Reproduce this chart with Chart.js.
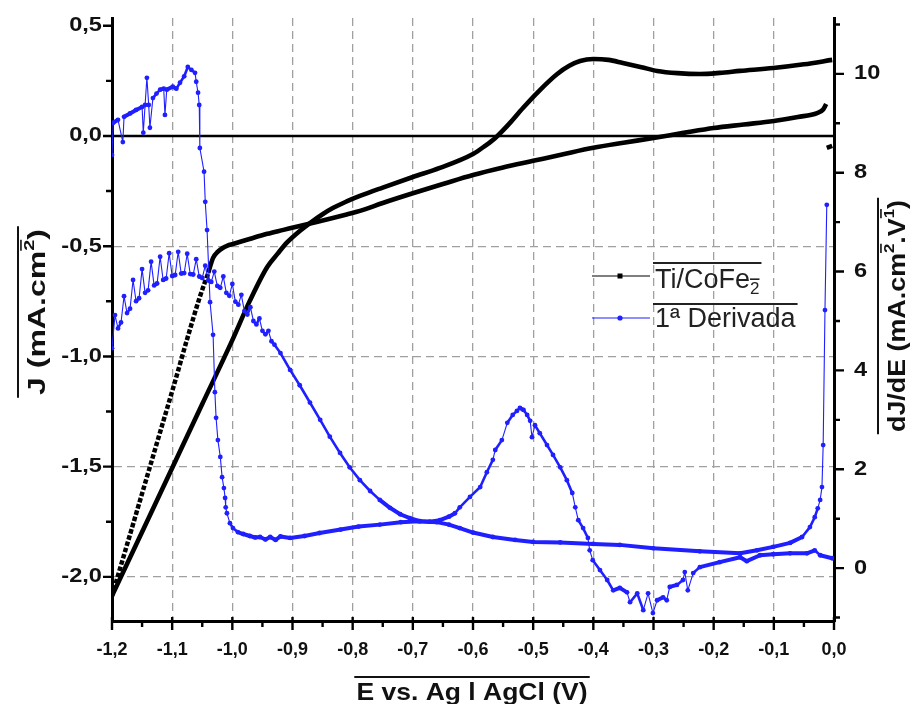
<!DOCTYPE html>
<html>
<head>
<meta charset="utf-8">
<script src="https://cdn.jsdelivr.net/npm/chart.js@4.4.1/dist/chart.umd.min.js"></script>
<style>
  html, body { margin: 0; padding: 0; background: #fff; }
  #wrap { width: 916px; height: 704px; }
</style>
</head>
<body>
<div id="wrap"><canvas id="c" width="916" height="704"></canvas></div>
<script>
// Ti/CoFe2 voltammogram, lower branch (dotted steep start, ends with the curl near 0 V)
const tiLowE = [-1.200, -1.175, -1.148, -1.120, -1.095, -1.075, -1.054, -1.040, -1.032, -1.024, -1.016, -1.008, -0.999,
  -0.970, -0.942, -0.915, -0.888, -0.860, -0.833, -0.810, -0.788, -0.750, -0.700, -0.650, -0.600, -0.550,
  -0.500, -0.450, -0.400, -0.350, -0.300, -0.250, -0.200, -0.150, -0.100, -0.060, -0.028, -0.018, -0.013];
const tiLowJ = [-2.086, -1.854, -1.603, -1.343, -1.111, -0.920, -0.730, -0.620, -0.553, -0.525, -0.508, -0.497, -0.490,
  -0.466, -0.444, -0.426, -0.408, -0.390, -0.372, -0.356, -0.340, -0.304, -0.260, -0.218, -0.177, -0.143,
  -0.113, -0.083, -0.054, -0.031, -0.009, 0.014, 0.036, 0.052, 0.068, 0.086, 0.104, 0.120, 0.145];

// upper branch (anodic peak near -0,4 V)
const tiUpE = [-1.200, -1.150, -1.100, -1.050, -1.000, -0.971, -0.942, -0.925, -0.909, -0.888, -0.871, -0.850, -0.833,
  -0.810, -0.788, -0.750, -0.700, -0.655, -0.600, -0.580, -0.563, -0.540, -0.517, -0.490, -0.460, -0.440, -0.422,
  -0.400, -0.375, -0.351, -0.320, -0.294, -0.260, -0.223, -0.190, -0.156, -0.101, -0.050, -0.003];
const tiUpJ = [-2.086, -1.796, -1.506, -1.216, -0.926, -0.748, -0.594, -0.535, -0.483, -0.431, -0.395, -0.355, -0.327,
  -0.297, -0.272, -0.234, -0.186, -0.145, -0.082, -0.045, -0.009, 0.055, 0.127, 0.205, 0.281, 0.318, 0.340,
  0.349, 0.345, 0.331, 0.312, 0.295, 0.285, 0.281, 0.286, 0.295, 0.308, 0.325, 0.345];

// short piece at the start of the scan
const tiTailE = [-0.012, -0.003];
const tiTailJ = [-0.054, -0.045];

// 1a derivada, branch of the lower curve
const derAE = [-1.200, -1.198, -1.190, -1.182, -1.180, -1.170, -1.160, -1.150, -1.148, -1.145, -1.142, -1.139, -1.137,
  -1.132, -1.126, -1.120, -1.114, -1.112, -1.109, -1.099, -1.093, -1.087, -1.080, -1.074, -1.068, -1.062, -1.060,
  -1.057, -1.055, -1.054, -1.047, -1.045, -1.042, -1.037, -1.032, -1.029, -1.027, -1.024, -1.020, -1.017, -1.014,
  -1.012, -1.011, -1.009, -1.004, -0.999, -0.991, -0.982, -0.971, -0.962, -0.954, -0.945, -0.937, -0.928, -0.920,
  -0.904, -0.880, -0.855, -0.820, -0.790, -0.755, -0.720, -0.690, -0.660, -0.640, -0.622, -0.600, -0.567, -0.530,
  -0.500, -0.455, -0.400, -0.356, -0.300, -0.223, -0.156, -0.128, -0.101, -0.073, -0.053, -0.040, -0.032, -0.027,
  -0.023, -0.020, -0.018, -0.015, -0.012];
const derAV = [8.36, 9.01, 9.07, 8.62, 9.13, 9.20, 9.27, 9.33, 8.81, 9.37, 9.92, 9.37, 8.91,
  9.51, 9.60, 9.68, 9.70, 9.17, 9.68, 9.74, 9.70, 9.82, 9.95, 10.14, 10.08, 10.02, 9.84,
  9.62, 9.37, 8.50, 8.02, 7.41, 6.84, 5.38, 4.72, 3.56, 3.04, 2.59, 2.25, 1.84, 1.62,
  1.42, 1.23, 1.11, 0.91, 0.81, 0.73, 0.69, 0.65, 0.62, 0.63, 0.58, 0.63, 0.57, 0.64,
  0.61, 0.65, 0.71, 0.78, 0.84, 0.88, 0.93, 0.95, 0.93, 0.88, 0.81, 0.72, 0.63, 0.57,
  0.53, 0.52, 0.49, 0.47, 0.40, 0.34, 0.30, 0.36, 0.43, 0.51, 0.63, 0.83, 1.03, 1.21,
  1.38, 1.64, 2.49, 5.22, 7.35];

// 1a derivada, branch of the upper curve (noisy comb at the start)
const derBE = [-1.200, -1.195, -1.190, -1.185, -1.180, -1.175, -1.170, -1.165, -1.160, -1.155, -1.150, -1.145, -1.140,
  -1.135, -1.130, -1.125, -1.120, -1.115, -1.110, -1.105, -1.100, -1.095, -1.090, -1.085, -1.080, -1.075, -1.070,
  -1.065, -1.060, -1.055, -1.050, -1.045, -1.040, -1.035, -1.030, -1.025, -1.020, -1.015, -1.010, -1.005, -1.000,
  -0.995, -0.990, -0.985, -0.980, -0.975, -0.970, -0.965, -0.960, -0.955, -0.950, -0.945, -0.940, -0.935, -0.930,
  -0.920, -0.904, -0.888, -0.871, -0.854, -0.838, -0.821, -0.805, -0.788,
  -0.771, -0.755, -0.738, -0.721, -0.705, -0.688, -0.672, -0.655, -0.640, -0.630, -0.622, -0.605, -0.588, -0.577,
  -0.567, -0.563, -0.552, -0.543, -0.534, -0.527, -0.522, -0.516, -0.510, -0.505, -0.502, -0.497, -0.489, -0.477,
  -0.467, -0.455, -0.444, -0.435, -0.430, -0.425, -0.417, -0.409, -0.406, -0.401, -0.389, -0.377, -0.367, -0.356,
  -0.344, -0.339, -0.327, -0.317, -0.309, -0.301, -0.294, -0.284, -0.278, -0.273, -0.261, -0.251, -0.248, -0.243,
  -0.234, -0.223, -0.190, -0.156, -0.145, -0.123, -0.101, -0.073, -0.045, -0.032, -0.023, -0.003];
const derBV = [4.45, 5.12, 4.85, 4.97, 5.50, 5.16, 5.25, 5.83, 5.40, 5.46, 6.05, 5.57, 5.62,
  6.20, 5.72, 5.76, 6.30, 5.83, 5.86, 6.37, 5.91, 5.93, 6.40, 5.96, 5.97, 6.36, 5.95,
  5.94, 6.25, 5.90, 5.87, 6.12, 5.82, 5.79, 6.00, 5.71, 5.67, 5.90, 5.57, 5.51, 5.75,
  5.39, 5.33, 5.53, 5.20, 5.13, 5.28, 5.00, 4.93, 5.05, 4.80, 4.73, 4.80, 4.59, 4.52,
  4.35, 4.01, 3.70, 3.35, 3.00, 2.66, 2.33, 2.04, 1.78,
  1.56, 1.38, 1.22, 1.09, 1.01, 0.95, 0.94, 0.97, 1.04, 1.11, 1.23, 1.44, 1.64, 1.94,
  2.19, 2.39, 2.59, 2.94, 3.10, 3.18, 3.24, 3.20, 3.10, 2.98, 2.65, 2.89, 2.73, 2.49,
  2.29, 2.04, 1.78, 1.52, 1.23, 0.97, 0.81, 0.61, 0.36, 0.16, -0.04, -0.24, -0.45, -0.40,
  -0.49, -0.69, -0.51, -0.85, -0.51, -0.91, -0.65, -0.59, -0.65, -0.38, -0.34, -0.24, -0.08, -0.45,
  -0.10, 0.02, 0.12, 0.22, 0.14, 0.26, 0.28, 0.30, 0.30, 0.36, 0.26, 0.20];

// ticks
const xTicks = [-1.2, -1.1, -1.0, -0.9, -0.8, -0.7, -0.6, -0.5, -0.4, -0.3, -0.2, -0.1, 0.0];
const xMinor = [-1.15, -1.05, -0.95, -0.85, -0.75, -0.65, -0.55, -0.45, -0.35, -0.25, -0.15, -0.05];
const jTicks = [-2.0, -1.5, -1.0, -0.5, 0.0, 0.5];
const jMinor = [-1.75, -1.25, -0.75, -0.25, 0.25];
const dTicks = [0, 2, 4, 6, 8, 10];
const dMinor = [-1, 1, 3, 5, 7, 9, 11];

const FAM = '"Liberation Sans", Arial, sans-serif';
const BLUE = '#1f1fff';

const pts = (xs, ys) => xs.map((x, i) => ({ x: x, y: ys[i] }));
const comma = (v, d) => v.toFixed(d).replace('.', ',');

// thick where the original points were dense (flat parts), thin where they were spread out
const blueWidth = ctx => {
  const dx = Math.abs(ctx.p1.x - ctx.p0.x) + 0.01;
  const slope = Math.abs(ctx.p1.y - ctx.p0.y) / dx;
  if (slope < 0.8) return 4;
  if (slope < 3) return 2.6;
  return 1.1;
};

function stretchText(ctx, text, x, y, align, sx) {
  const w = ctx.measureText(text).width * sx;
  const left = align === 'right' ? x - w : (align === 'center' ? x - w / 2 : x);
  ctx.save();
  ctx.translate(left, y);
  ctx.scale(sx, 1);
  ctx.textAlign = 'left';
  ctx.fillText(text, 0, 0);
  ctx.restore();
}

function drawRich(ctx, parts, o) {
  ctx.save();
  ctx.translate(o.x, o.y);
  ctx.rotate(o.angle || 0);
  const small = Math.round(o.size * 0.62);
  const fontFor = p => o.weight + ' ' + (p.sup || p.sub ? small : o.size) + 'px ' + FAM;
  let w = 0;
  parts.forEach(p => { ctx.font = fontFor(p); p.w = ctx.measureText(p.t).width; w += p.w; });
  const sx = o.fit ? o.fit / w : 1;
  ctx.scale(sx, 1);
  let cx = o.align === 'left' ? 0 : -w / 2;
  const x0 = cx;
  ctx.fillStyle = o.color;
  ctx.strokeStyle = o.color;
  ctx.textBaseline = 'alphabetic';
  parts.forEach(p => {
    ctx.font = fontFor(p);
    const dy = p.sup ? -o.size * 0.45 : (p.sub ? o.size * 0.22 : 0);
    ctx.fillText(p.t, cx, dy);
    if (p.bar) {
      const top = dy - small * 0.75 - 2;
      ctx.lineWidth = 1.6;
      ctx.beginPath();
      ctx.moveTo(cx, top);
      ctx.lineTo(cx + p.w, top);
      ctx.stroke();
    }
    cx += p.w;
  });
  if (o.overline) {
    ctx.lineWidth = 2;
    ctx.beginPath();
    ctx.moveTo(x0 - 2, -o.overline);
    ctx.lineTo(cx + 2, -o.overline);
    ctx.stroke();
  }
  ctx.restore();
}

const framePlugin = {
  id: 'frame',
  beforeDatasetsDraw(chart) {
    const { ctx, chartArea } = chart;
    const y0 = chart.scales.y.getPixelForValue(0);
    ctx.save();
    ctx.strokeStyle = '#000';
    ctx.lineWidth = 2.6;
    ctx.beginPath();
    ctx.moveTo(chartArea.left, y0);
    ctx.lineTo(chartArea.right, y0);
    ctx.stroke();
    ctx.restore();
  },
  afterDraw(chart) {
    const { ctx, chartArea } = chart;
    const sx = chart.scales.x, sy = chart.scales.y, sy2 = chart.scales.y2;
    ctx.save();
    ctx.strokeStyle = '#000';
    ctx.lineWidth = 2.4;
    ctx.beginPath();
    const b = chartArea.bottom, l = chartArea.left, r = chartArea.right;
    xTicks.forEach(v => { const p = sx.getPixelForValue(v); ctx.moveTo(p, b - 4); ctx.lineTo(p, b + 9); });
    xMinor.forEach(v => { const p = sx.getPixelForValue(v); ctx.moveTo(p, b); ctx.lineTo(p, b + 6); });
    jTicks.forEach(v => { const p = sy.getPixelForValue(v); ctx.moveTo(l, p); ctx.lineTo(l - 9, p); });
    jMinor.forEach(v => { const p = sy.getPixelForValue(v); ctx.moveTo(l, p); ctx.lineTo(l - 6, p); });
    dTicks.forEach(v => { const p = sy2.getPixelForValue(v); ctx.moveTo(r, p); ctx.lineTo(r + 10, p); });
    dMinor.forEach(v => {
      const p = sy2.getPixelForValue(v);
      if (p >= chartArea.top && p <= b) { ctx.moveTo(r, p); ctx.lineTo(r + 6, p); }
    });
    ctx.stroke();

    // tick labels
    ctx.fillStyle = '#111';
    ctx.textBaseline = 'middle';
    ctx.font = 'bold 18px ' + FAM;
    xTicks.forEach(v => stretchText(ctx, comma(v, 1), sx.getPixelForValue(v), b + 29, 'center', 1));
    ctx.font = 'bold 20px ' + FAM;
    jTicks.forEach(v => stretchText(ctx, comma(v, 1), l - 10, sy.getPixelForValue(v), 'right', 1.18));
    dTicks.forEach(v => stretchText(ctx, String(v), r + 20, sy2.getPixelForValue(v), 'left', 1.18));
    ctx.restore();

    // axis titles
    drawRich(ctx, [{ t: 'J (mA.cm' }, { t: '2', sup: true, bar: true }, { t: ')' }],
      { x: 45, y: 312, angle: -Math.PI / 2, size: 24, weight: 'bold', color: '#111', fit: 166, overline: 27 });
    drawRich(ctx, [{ t: 'dJ/dE (mA.cm' }, { t: '2', sup: true, bar: true }, { t: '.V' }, { t: '1', sup: true, bar: true }, { t: ')' }],
      { x: 905, y: 316, angle: -Math.PI / 2, size: 24, weight: 'bold', color: '#111', fit: 232, overline: 27 });
    drawRich(ctx, [{ t: 'E vs. Ag l AgCl (V)' }],
      { x: 472, y: 700, size: 24, weight: 'bold', color: '#111', fit: 231, overline: 23 });

    // legend
    ctx.save();
    ctx.lineWidth = 1.2;
    ctx.strokeStyle = '#000';
    ctx.beginPath(); ctx.moveTo(592, 276); ctx.lineTo(650, 276); ctx.stroke();
    ctx.fillStyle = '#000';
    ctx.fillRect(617.5, 273.5, 5, 5);
    ctx.strokeStyle = BLUE;
    ctx.beginPath(); ctx.moveTo(592, 318); ctx.lineTo(650, 318); ctx.stroke();
    ctx.fillStyle = BLUE;
    ctx.beginPath(); ctx.arc(620, 318, 2.6, 0, Math.PI * 2); ctx.fill();
    ctx.restore();
    drawRich(ctx, [{ t: 'Ti/CoFe' }, { t: '2', sub: true, bar: true }],
      { x: 655, y: 288, align: 'left', size: 27, weight: 'normal', color: '#222', overline: 25 });
    drawRich(ctx, [{ t: '1\u00aa Derivada' }],
      { x: 655, y: 327, align: 'left', size: 27, weight: 'normal', color: '#222', overline: 23 });
  }
};

const gridColor = edgeVals => ctx => {
  const v = ctx.tick ? ctx.tick.value : null;
  return edgeVals.includes(v) ? 'rgba(0,0,0,0)' : '#a0a0a0';
};

new Chart(document.getElementById('c'), {
  type: 'scatter',
  data: {
    datasets: [
      {
        label: '1\u00aa Derivada', data: pts(derAE, derAV), yAxisID: 'y2', showLine: true, order: 0,
        borderColor: BLUE, backgroundColor: BLUE, pointBackgroundColor: BLUE, pointBorderWidth: 0,
        pointRadius: 2.4, borderWidth: 1.1, borderJoinStyle: 'round',
        segment: { borderWidth: blueWidth }
      },
      {
        label: '1\u00aa Derivada (b)', data: pts(derBE, derBV), yAxisID: 'y2', showLine: true, order: 0,
        borderColor: BLUE, backgroundColor: BLUE, pointBackgroundColor: BLUE, pointBorderWidth: 0,
        pointRadius: 2.4, borderWidth: 1.1, borderJoinStyle: 'round',
        segment: { borderWidth: blueWidth }
      },
      {
        label: 'Ti/CoFe2', data: pts(tiLowE, tiLowJ), yAxisID: 'y', showLine: true, order: 1,
        borderColor: '#000', pointRadius: 0, borderWidth: 4.6, borderJoinStyle: 'round',
        cubicInterpolationMode: 'monotone',
        segment: {
          borderDash: ctx => tiLowE[ctx.p1DataIndex] < -1.035 ? [4.5, 2] : undefined,
          borderWidth: ctx => tiLowE[ctx.p1DataIndex] < -1.035 ? 4.5 : undefined
        }
      },
      {
        label: 'Ti/CoFe2 (b)', data: pts(tiUpE, tiUpJ), yAxisID: 'y', showLine: true, order: 1,
        borderColor: '#000', pointRadius: 0, borderWidth: 4.6, borderJoinStyle: 'round',
        cubicInterpolationMode: 'monotone'
      },
      {
        label: 'Ti/CoFe2 (c)', data: pts(tiTailE, tiTailJ), yAxisID: 'y', showLine: true, order: 1,
        borderColor: '#000', pointRadius: 0, borderWidth: 4.6
      }
    ]
  },
  options: {
    responsive: false,
    animation: false,
    devicePixelRatio: 1,
    layout: { padding: { top: 18, left: 0, right: 0, bottom: 0 } },
    plugins: { legend: { display: false }, tooltip: { enabled: false } },
    scales: {
      x: {
        type: 'linear', min: -1.2, max: 0.0,
        afterBuildTicks: s => { s.ticks = xTicks.map(v => ({ value: v })); },
        afterFit: s => { s.height = 83; },
        ticks: { display: false },
        grid: { drawTicks: false, color: gridColor([-1.2, 0]), lineWidth: 1.3 },
        border: { display: true, color: '#000', width: 3, dash: [8, 5] }
      },
      y: {
        type: 'linear', position: 'left', min: -2.2, max: 0.535,
        afterBuildTicks: s => { s.ticks = jTicks.map(v => ({ value: v })); },
        afterFit: s => { s.width = 112; },
        ticks: { display: false },
        grid: { drawTicks: false, color: gridColor([0, 0.5]), lineWidth: 1.3 },
        border: { display: true, color: '#000', width: 3, dash: [8, 5] }
      },
      y2: {
        type: 'linear', position: 'right', min: -1.07, max: 11.13,
        afterBuildTicks: s => { s.ticks = dTicks.map(v => ({ value: v })); },
        afterFit: s => { s.width = 82; },
        ticks: { display: false },
        grid: { display: false, drawTicks: false },
        border: { display: true, color: '#000', width: 3 }
      }
    }
  },
  plugins: [framePlugin]
});
</script>
</body>
</html>
